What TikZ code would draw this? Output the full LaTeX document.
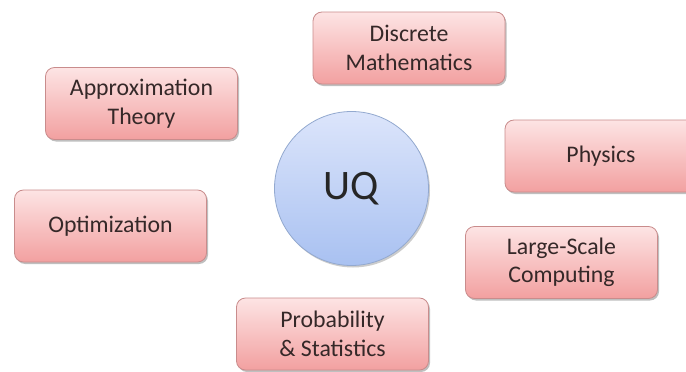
\documentclass[tikz,border=0pt]{standalone}
\usepackage{fontspec}
\setmainfont{Carlito}
\usetikzlibrary{shadows}
\definecolor{boxtop}{HTML}{FDE4E4}
\definecolor{boxbot}{HTML}{F2A0A0}
\definecolor{boxline}{HTML}{C98C8C}
\definecolor{circtop}{HTML}{DCE5FB}
\definecolor{circbot}{HTML}{A9C1F1}
\definecolor{circline}{HTML}{93A9CF}
\definecolor{txt}{HTML}{352828}
\begin{document}
\begin{tikzpicture}[x=1pt,y=-1pt,
  topic/.style={rectangle, rounded corners=9pt, draw=boxline, line width=0.8pt,
    top color=boxtop, bottom color=boxbot,
    minimum width=192pt, minimum height=72pt, align=center,
    font=\fontsize{23.8}{28.5}\selectfont, text=txt,
    drop shadow={shadow xshift=1.5pt, shadow yshift=-2pt, opacity=0.25, fill=black}},
  hub/.style={circle, draw=circline, line width=0.8pt,
    top color=circtop, bottom color=circbot,
    minimum size=154pt, inner sep=0pt,
    font=\fontsize{42}{46}\selectfont, text=black!85,
    drop shadow={shadow xshift=1.5pt, shadow yshift=-2pt, opacity=0.2, fill=black}}]
  \useasboundingbox (0,0) rectangle (686,372);
  \node[hub] (uq) at (351.5,188.5) {UQ};
  \node[topic] (disc) at (409,48) {Discrete\\Mathematics};
  \node[topic] (approx) at (141.5,103.5) {Approximation\\Theory};
  \node[topic] (phys) at (601,156) {Physics};
  \node[topic] (opt) at (110.5,226) {Optimization};
  \node[topic] (lsc) at (561.5,262.5) {Large-Scale\\Computing};
  \node[topic] (prob) at (332.5,334) {Probability\\\& Statistics};
\end{tikzpicture}
\end{document}
